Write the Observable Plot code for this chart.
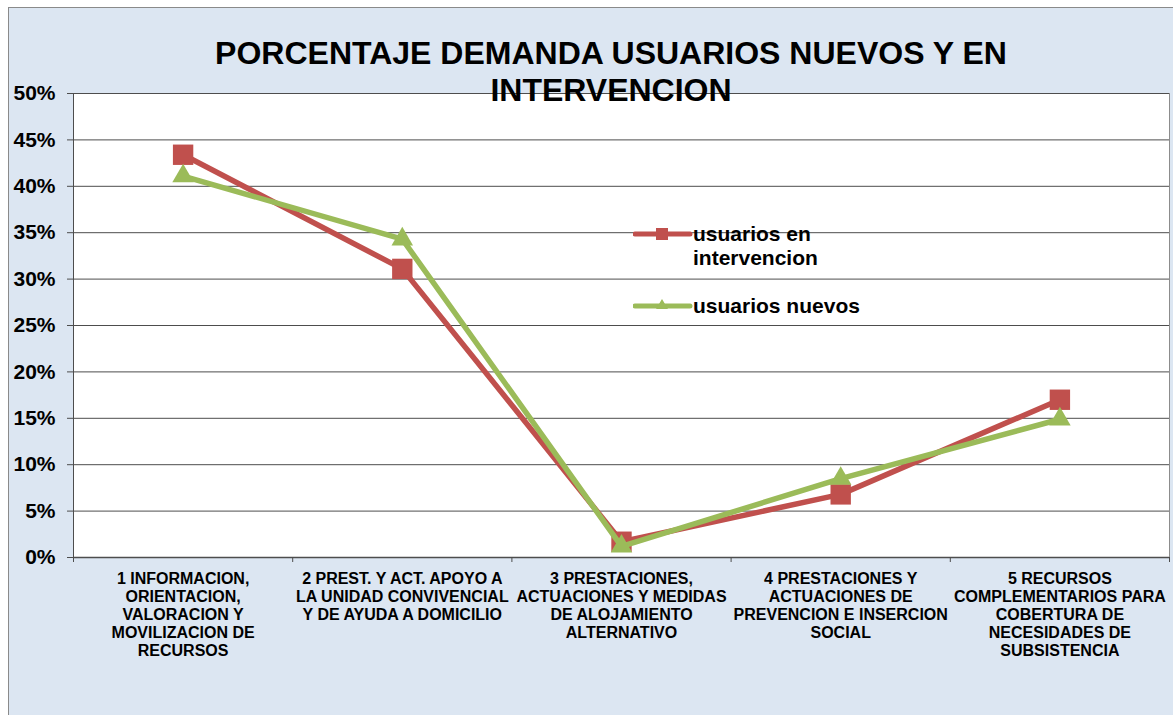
<!DOCTYPE html>
<html>
<head>
<meta charset="utf-8">
<script src="https://cdn.jsdelivr.net/npm/d3@7"></script>
<script src="https://cdn.jsdelivr.net/npm/@observablehq/plot@0.6"></script>
<style>
  html, body { margin: 0; padding: 0; background: #ffffff; }
  #wrap { position: relative; width: 1173px; height: 715px; overflow: hidden; font-family: "Liberation Sans", Arial, sans-serif; }
  #bg { position: absolute; left: 8px; top: 7px; width: 1200px; height: 800px; background: #DCE6F2; border-left: 1px solid #8a8a8a; border-top: 1px solid #8a8a8a; }
  #chart { position: absolute; left: 0; top: 0; }
  #title { position: absolute; left: 150px; width: 922px; top: 35px; text-align: center; font-weight: bold; font-size: 32px; line-height: 37px; color: #000; }
  .leg { position: absolute; font-weight: bold; font-size: 21px; line-height: 24px; color: #000; }
  .sw { position: absolute; }
</style>
</head>
<body>
<div id="wrap">
  <div id="bg"></div>
  <div id="chart"></div>
  <div id="title">PORCENTAJE DEMANDA USUARIOS NUEVOS Y EN<br>INTERVENCION</div>
  <div id="legend"></div>
</div>
<script>
const categories = [
  "1 INFORMACION,\nORIENTACION,\nVALORACION Y\nMOVILIZACION DE\nRECURSOS",
  "2 PREST. Y ACT. APOYO A\nLA UNIDAD CONVIVENCIAL\nY DE AYUDA A DOMICILIO",
  "3 PRESTACIONES,\nACTUACIONES Y MEDIDAS\nDE ALOJAMIENTO\nALTERNATIVO",
  "4 PRESTACIONES Y\nACTUACIONES DE\nPREVENCION E INSERCION\nSOCIAL",
  "5 RECURSOS\nCOMPLEMENTARIOS PARA\nCOBERTURA DE\nNECESIDADES DE\nSUBSISTENCIA"
];
const seriesNames = ["usuarios en intervencion", "usuarios nuevos"];
const intervencion = [43.4, 31.1, 1.7, 6.8, 17.0];
const nuevos = [41.1, 34.3, 1.2, 8.5, 14.9];
const yTicks = [0, 5, 10, 15, 20, 25, 30, 35, 40, 45, 50];
const colors = ["#C0504D", "#9BBB59"];

const rows = [];
categories.forEach((c, i) => {
  rows.push({cat: c, idx: i, series: seriesNames[0], value: intervencion[i]});
});
categories.forEach((c, i) => {
  rows.push({cat: c, idx: i, series: seriesNames[1], value: nuevos[i]});
});
const red = rows.filter(d => d.series === seriesNames[0]);
const green = rows.filter(d => d.series === seriesNames[1]);

const plot = Plot.plot({
  width: 1173,
  height: 715,
  marginLeft: 73,
  marginRight: 4,
  marginTop: 93,
  marginBottom: 158,
  style: {background: "transparent", fontFamily: "Liberation Sans, Arial, sans-serif", overflow: "visible"},
  x: {domain: [0, categories.length], label: null},
  y: {domain: [0, 50], label: null},
  marks: [
    Plot.frame({fill: "#ffffff", stroke: "#8c8c8c"}),
    Plot.ruleY(yTicks, {stroke: "#4d4d4d", strokeWidth: 1}),
    Plot.axisY({ticks: yTicks, label: null, tickFormat: d => d + "%", tickSize: 6, tickPadding: 12, fontSize: 21, fontWeight: "bold", stroke: "#4d4d4d", color: "#000"}),
    Plot.ruleX([0], {stroke: "#4d4d4d"}),
    Plot.ruleY([0], {stroke: "#4d4d4d", strokeWidth: 1.5}),
    Plot.axisX({ticks: d3.range(0, categories.length + 1), label: null, tickFormat: () => "", tickSize: 5, stroke: "#4d4d4d"}),
    Plot.text(categories, {x: (d, i) => i + 0.5, y: () => 0, text: d => d, lineAnchor: "top", dy: 14, fontSize: 16, fontWeight: "bold", lineHeight: 1.125, fill: "#000"}),
    Plot.line(red, {x: d => d.idx + 0.5, y: "value", stroke: colors[0], strokeWidth: 5.5}),
    Plot.dot(red, {x: d => d.idx + 0.5, y: "value", symbol: "square", r: 11.5, fill: colors[0], stroke: "none"}),
    Plot.line(green, {x: d => d.idx + 0.5, y: "value", stroke: colors[1], strokeWidth: 5.5}),
    Plot.dot(green, {x: d => d.idx + 0.5, y: "value", symbol: "triangle", r: 8, fill: colors[1], stroke: "none"})
  ]
});
document.getElementById("chart").appendChild(plot);

// Legend
const legend = document.getElementById("legend");
const legItems = [
  {name: "usuarios en<br>intervencion", color: colors[0], sym: "square", top: 222, lineY: 234},
  {name: "usuarios nuevos", color: colors[1], sym: "triangle", top: 294, lineY: 306}
];
legItems.forEach(it => {
  const svg = d3.create("svg").attr("class", "sw").attr("width", 60).attr("height", 20)
    .style("left", "633px").style("top", (it.lineY - 10) + "px");
  svg.append("line").attr("x1", 2).attr("x2", 57).attr("y1", 10).attr("y2", 10)
    .attr("stroke", it.color).attr("stroke-width", 5).attr("stroke-linecap", "round");
  if (it.sym === "square") {
    svg.append("rect").attr("x", 23).attr("y", 4).attr("width", 12).attr("height", 12).attr("fill", it.color);
  } else {
    svg.append("path").attr("d", "M29,3 L35,13 L23,13 Z").attr("fill", it.color);
  }
  legend.appendChild(svg.node());
  const t = document.createElement("div");
  t.className = "leg";
  t.style.left = "693px";
  t.style.top = it.top + "px";
  t.innerHTML = it.name;
  legend.appendChild(t);
});
</script>
</body>
</html>
